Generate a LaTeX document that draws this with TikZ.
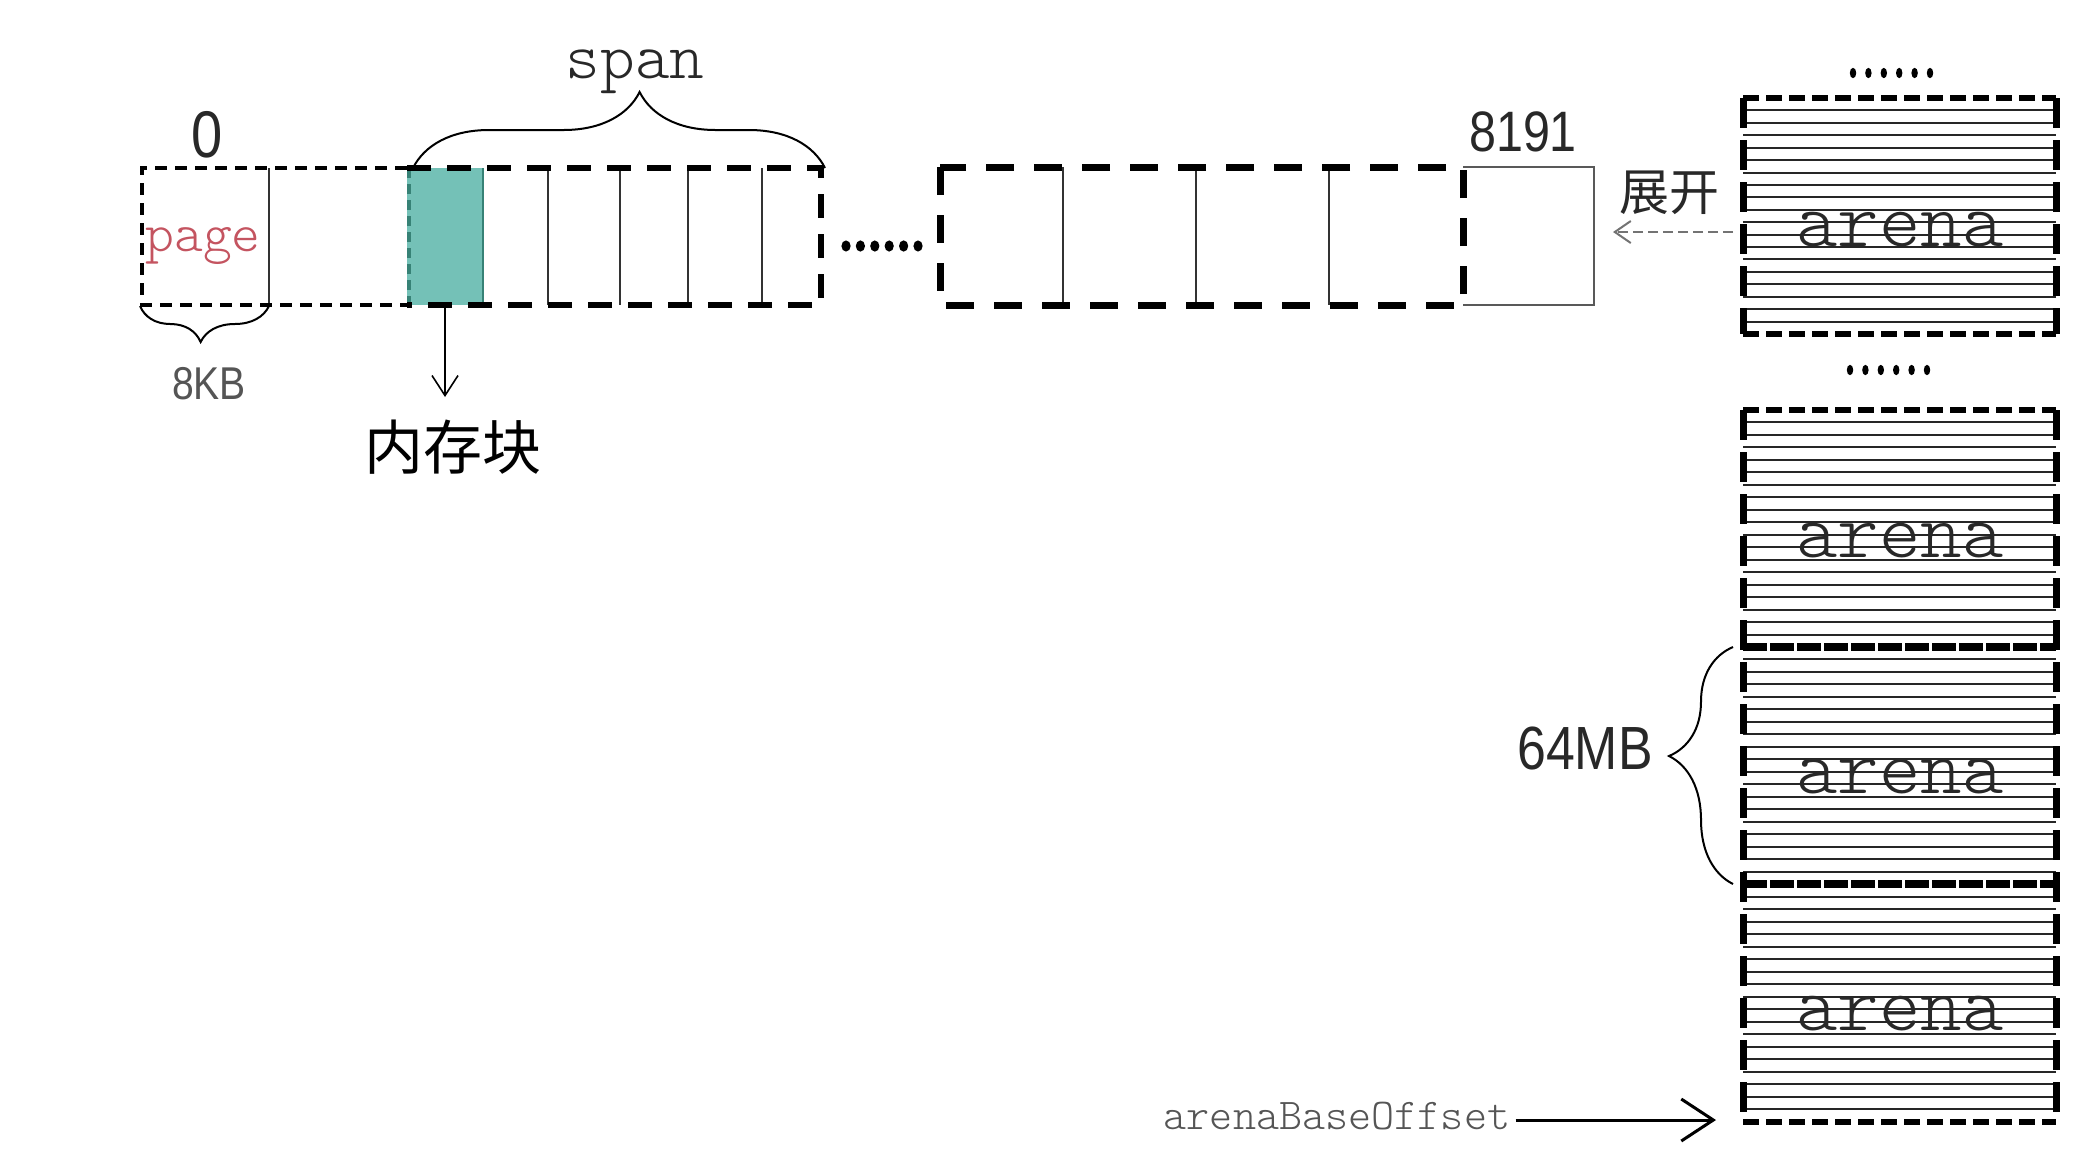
\documentclass[tikz,border=0pt]{standalone}
\usepackage{fontspec}
\usetikzlibrary{arrows.meta,decorations.pathreplacing}
\newfontfamily\monof{Latin Modern Mono Light}
\newfontfamily\narrowf[FakeStretch=0.85]{Liberation Sans}
\newfontfamily\cjkf{Noto Sans CJK SC}
\definecolor{tealfill}{RGB}{116,193,183}
\definecolor{tealedge}{RGB}{55,130,118}
\definecolor{pagered}{RGB}{196,84,96}
\definecolor{txtdark}{RGB}{40,40,40}
\definecolor{txtgray}{RGB}{85,85,85}
\begin{document}
\begin{tikzpicture}[x=0.5pt,y=-0.5pt,
  stripe/.style={line width=1pt,black!85},
  thinline/.style={line width=0.8pt,black!80},
  pagedash/.style={line width=2pt,dash pattern=on 6pt off 4pt},
  spandash/.style={line width=3pt,dash pattern=on 12pt off 8pt},
  middash/.style={line width=3.5pt,dash pattern=on 14pt off 10pt},
  arenahor/.style={line width=3pt,dash pattern=on 8pt off 3.5pt},
  arenaver/.style={line width=3.5pt,dash pattern=on 15pt off 6pt},
  arenasep/.style={line width=4pt,dash pattern=on 12pt off 1.5pt},
  bracestyle/.style={line width=1pt,decorate},
  dotstyle/.style={fill=black,draw=none},
  monotext/.style={font=\monof\fontsize{#1}{#1}\selectfont,inner sep=0pt,anchor=base},
  numtext/.style={font=\narrowf\fontsize{#1}{#1}\selectfont,inner sep=0pt,anchor=base},
  cjktext/.style={font=\cjkf\fontsize{#1}{#1}\selectfont,inner sep=0pt},
  tealbox/.style={fill=tealfill,draw=none,inner sep=0pt,minimum width=38pt,minimum height=68.5pt}
]
\useasboundingbox (0,0) rectangle (2092,1158);

% ---------------- left strip ----------------
\node[tealbox] (mem) at (445,236.5) {};
\draw[tealedge,line width=2pt,dash pattern=on 5pt off 3pt] (409,168) -- (409,305);
\draw[tealedge,line width=0.8pt] (483,168) -- (483,305);
\foreach \xx in {269,548,620,688,762} \draw[thinline] (\xx,168) -- (\xx,305);
\draw[pagedash] (407,168) -- (142,168) -- (142,305) -- (407,305);
\draw[spandash] (407,168) -- (821,168) -- (821,305) -- (407,305);

\node[numtext=33,text=txtdark] (zero) at (207,157) {0};
\node[monotext=27.5,text=pagered] (page) at (203,251) {page};
\node[monotext=33,text=txtdark] (span) at (635,78) {span};
\coordinate (spanL) at (413,168);
\coordinate (spanR) at (825,168);
\draw[bracestyle,decoration={brace,amplitude=38pt,aspect=0.55}] (spanL) -- (spanR);

\coordinate (kbR) at (269,306);
\coordinate (kbL) at (140,306);
\draw[bracestyle,decoration={brace,amplitude=18pt,aspect=0.53}] (kbR) -- (kbL);
\node[numtext=23,text=txtgray] (kb) at (209,399) {8KB};

\coordinate (memtip) at (445,397);
\draw[line width=0.8pt,-{Straight Barb[length=10pt,width=13pt]}] (mem.south) -- (memtip);
\node[cjktext=29.5] (memtext) at (453,447) {内存块};

% dots
\foreach \k in {0,...,5} \fill[dotstyle] ({846+\k*14.4},246) ellipse (4.6 and 5.6);

% ---------------- middle strip ----------------
\foreach \xx in {1063,1196,1329} \draw[thinline] (\xx,167) -- (\xx,305);
\draw[line width=0.8pt,black!65] (1463,167) -- (1594,167) -- (1594,305) -- (1463,305);
\draw[middash] (940,167) rectangle (1463,305);
\node[numtext=28.5,text=txtdark] (n8191) at (1523,151) {8191};

% ---------------- arenas ----------------
\foreach \t/\b in {98/334,410/647,647/884,884/1122}{
  \foreach \i in {1,...,18}
    \draw[stripe] (1743,{\t+\i*(\b-\t)/19}) -- (2056,{\t+\i*(\b-\t)/19});
}
% arena 1
\draw[arenahor] (1743,98) -- (2056,98);
\draw[arenahor] (1743,334) -- (2056,334);
\draw[arenaver] (1743,98) -- (1743,334);
\draw[arenaver] (2056,98) -- (2056,334);
% arenas 2-4
\draw[arenahor] (1743,410) -- (2056,410);
\draw[arenasep] (1743,647) -- (2056,647);
\draw[arenasep] (1743,884) -- (2056,884);
\draw[arenahor] (1743,1122) -- (2056,1122);
\draw[arenaver] (1743,410) -- (1743,1122);
\draw[arenaver] (2056,410) -- (2056,1122);

\node[monotext=39.5,text=txtdark] (arenaA) at (1900,246) {arena};
\node[monotext=39.5,text=txtdark] (arenaB) at (1900,557) {arena};
\node[monotext=39.5,text=txtdark] (arenaC) at (1900,793) {arena};
\node[monotext=39.5,text=txtdark] (arenaD) at (1900,1030) {arena};

\foreach \k in {0,...,5} \fill[dotstyle] ({1853+\k*15.4},73) ellipse (3.2 and 5.2);
\foreach \k in {0,...,5} \fill[dotstyle] ({1850+\k*15.4},370) ellipse (3.2 and 5.2);

% expand arrow
\coordinate (expS) at (1733,232);
\coordinate (expE) at (1613,232);
\draw[black!55,line width=1pt,dash pattern=on 5pt off 2.5pt,-{Straight Barb[length=8pt,width=11pt]}] (expS) -- (expE);
\node[cjktext=25,text=txtdark] (expand) at (1669,193) {展开};

% 64MB brace
\coordinate (mbB) at (1733,884);
\coordinate (mbT) at (1733,647);
\draw[bracestyle,decoration={brace,amplitude=32pt,aspect=0.54}] (mbB) -- (mbT);
\node[numtext=30.5,text=txtdark] (mb) at (1585,769) {64MB};

% arenaBaseOffset
\node[monotext=22,text=txtgray] (abo) at (1337,1129) {arenaBaseOffset};
\coordinate (abotip) at (1716,1120);
\draw[line width=1.5pt,-{Straight Barb[length=16pt,width=21pt]}] (abo.east |- abotip) ++(5,0) -- (abotip);
\end{tikzpicture}
\end{document}
